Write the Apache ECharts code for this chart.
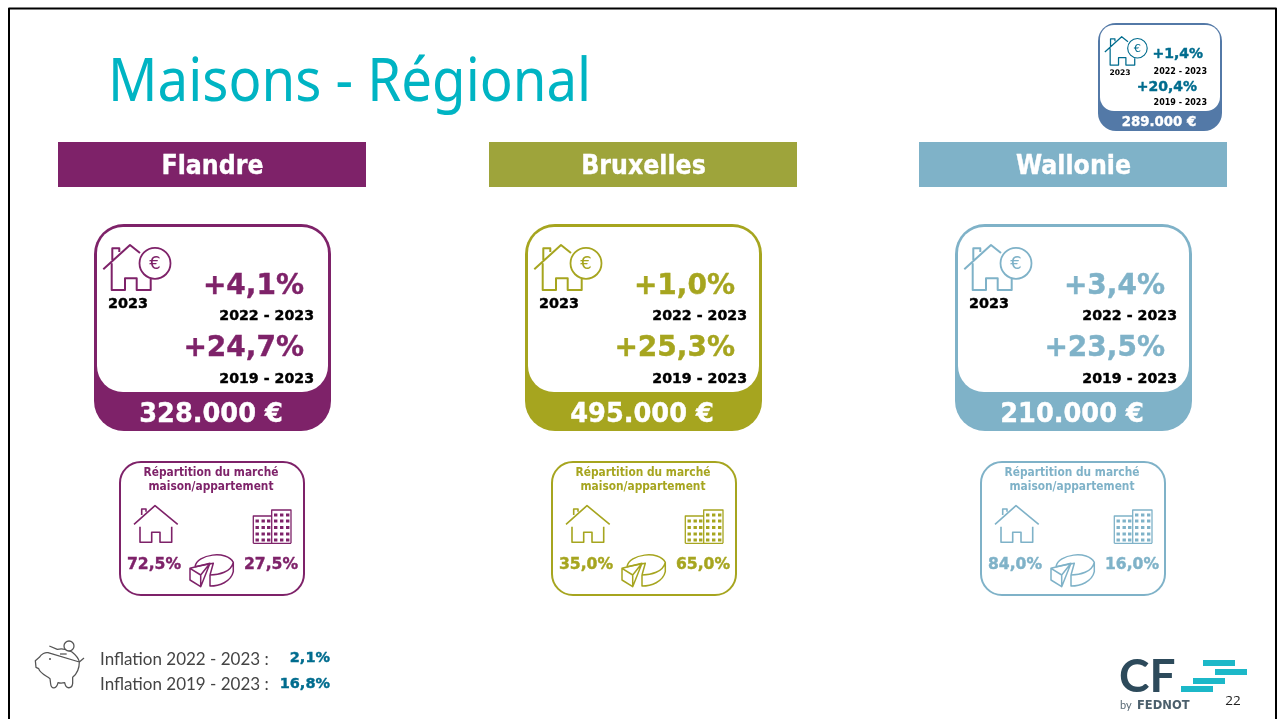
<!DOCTYPE html>
<html>
<head>
<meta charset="utf-8">
<title>Maisons - Régional</title>
<style>
html, body { margin: 0; padding: 0; background: #fff; }
#chart-container { width: 1277px; height: 719px; }
</style>
<script src="https://cdn.jsdelivr.net/npm/echarts@6/dist/echarts.min.js"></script>
</head>
<body>
<div id="chart-container"></div>
<script>
// data
const titleText = "Maisons - Régional";
const regions = ["Flandre", "Bruxelles", "Wallonie"];
const prices = [328000, 495000, 210000];
const growthShort = [4.1, 1.0, 3.4];
const growthLong = [24.7, 25.3, 23.5];
const shareHouse = [72.5, 35.0, 84.0];
const shareFlat = [27.5, 65.0, 16.0];
const nationalPrice = 289000;
const nationalShort = 1.4;
const nationalLong = 20.4;
const periodShort = "2022 - 2023";
const periodLong = "2019 - 2023";
const priceYear = "2023";
const inflationLabels = ["Inflation 2022 - 2023 :", "Inflation 2019 - 2023 :"];
const inflationValues = [2.1, 16.8];
const pageNumber = "22";

// layout and colours
const headerColors = ["#7e2269", "#9ea43b", "#7fb2c8"];
const cardColors = ["#7e2269", "#a6a51f", "#7fb2c8"];
const headerLeft = [58, 489, 919];
const cardLeft = [94, 525, 955];
const miniLeft = [119, 551, 980];
const periodRight = [314, 747, 1177];
const boldFont = '"DejaVu Sans"';
const blue = "#006c8e";

let dom = document.getElementById("chart-container");
let myChart = echarts.init(dom, null, { renderer: "canvas", useDirtyRect: false });

function pct(v) {
    return v.toFixed(1).replace(".", ",") + "%";
}
function euro(v) {
    return String(v).replace(/\B(?=(\d{3})+$)/g, ".") + " €";
}
function label(text, x, y, size, fill, align, weight, family) {
    let el = {
        type: "text",
        style: {
            text: text, x: x, y: y + size * 0.07, fill: fill,
            font: (weight || "bold") + " " + size + "px " + (family || boldFont),
            align: align || "center", verticalAlign: "middle",
            textAlign: align || "center", textVerticalAlign: "middle",
        },
    };
    // the slide's bold face is heavier than DejaVu Bold
    if (!weight && size >= 13) {
        el.style.stroke = fill;
        el.style.lineWidth = 0.4;
    }
    return el;
}
// narrow a label around its anchor
function squeeze(el, sx) {
    el.x = el.style.x;
    el.y = el.style.y;
    el.style.x = 0;
    el.style.y = 0;
    el.scaleX = sx;
    return el;
}

// graphic has no plain path type, so each icon outline is registered as a shape
let iconShapes = {};
function line(pathData, color, width) {
    if (!iconShapes[pathData]) {
        iconShapes[pathData] = "icon" + Object.keys(iconShapes).length;
        echarts.graphic.registerShape(iconShapes[pathData], echarts.graphic.extendPath(pathData, {}));
    }
    return {
        type: iconShapes[pathData],
        style: { fill: null, stroke: color, lineWidth: width || 1.5, lineJoin: "round" },
    };
}

// house with euro coin, coordinates relative to the card corner
function houseCoin(color) {
    return [
        line("M9.3 45.3 L36 21 L46 29 M18.3 36 L18.3 24.3 L25.3 24.3 L25.3 28 M17.7 39.3 L17.7 66 L31 66 L31 54.3 L42.7 54.3 L42.7 66 L56.7 66 L56.7 55", color, 2),
        {
            type: "circle",
            shape: { cx: 61, cy: 39.3, r: 15.5 },
            style: { fill: "#fff", stroke: color, lineWidth: 1.8 },
        },
        label("€", 61, 39, 18, color, "center", "normal"),
    ];
}

function priceCard(x, y, w, h, r, band, color, inset, texts) {
    return [
        {
            type: "rect",
            shape: { x: x, y: y, width: w, height: h, r: r },
            style: { fill: color },
        },
        {
            type: "rect",
            shape: { x: x + inset, y: y + inset, width: w - 2 * inset, height: h - band - inset, r: r - 4 },
            style: { fill: "#fff" },
        },
    ].concat(texts);
}

function buildingWindows(color) {
    let out = [];
    let cols = [136.5, 142.5, 148, 155, 161, 167];
    cols.forEach(function (cx, i) {
        let rows = i < 3 ? [57.5, 64, 70.5, 76.5] : [51.5, 57.5, 64, 70.5, 76.5];
        rows.forEach(function (cy) {
            out.push({
                type: "rect",
                shape: { x: cx, y: cy, width: 3.4, height: 3 },
                style: { fill: color },
            });
        });
    });
    return out;
}

let elements = [];

// slide frame
elements.push(line("M9 719 L9 8.5 L1276 8.5 L1276 719", "#000", 2));

elements.push(squeeze(label(titleText, 108, 80, 60, "#00b4c3", "left", "normal", '"Noto Sans"'), 0.91));

regions.forEach(function (name, i) {
    let color = cardColors[i];
    // header
    elements.push({
        type: "rect",
        shape: { x: headerLeft[i], y: 142, width: 308, height: 45 },
        style: { fill: headerColors[i] },
    });
    elements.push(squeeze(label(name, headerLeft[i] + 154.5, 165, 27, "#fff"), 0.88));

    // price card
    let x = cardLeft[i];
    let right = x + 236;
    elements = elements.concat(priceCard(x, 224, 237, 207, 30, 39, color, 3, [
        label(priceYear, x + 34, 303, 14.4, "#000"),
        label("+" + pct(growthShort[i]), right - 26, 285, 28, color, "right"),
        label(periodShort, periodRight[i], 315, 14.2, "#000", "right"),
        label("+" + pct(growthLong[i]), right - 26, 347, 28, color, "right"),
        label(periodLong, periodRight[i], 378, 14.2, "#000", "right"),
        squeeze(label(euro(prices[i]), x + 117, 413, 27, "#fff"), 0.95),
    ]));
    elements.push({ type: "group", x: x, y: 224, children: houseCoin(color) });

    // market split card
    let mx = miniLeft[i];
    elements.push({
        type: "rect",
        shape: { x: mx + 1, y: 462, width: 184, height: 133, r: 21 },
        style: { fill: "#fff", stroke: color, lineWidth: 2 },
    });
    elements.push({
        type: "group",
        x: mx,
        y: 462,
        children: [
            squeeze(label("Répartition du marché", 92, 10, 11.5, color), 0.924),
            squeeze(label("maison/appartement", 92, 24.5, 11.5, color), 0.924),
            line("M15 62.3 L36 43.7 L58.7 62.3 M22.7 53 L22.7 47 L27 47 L27 49.7 M21 64.7 L21 80.3 L32.7 80.3 L32.7 70.3 L41 70.3 L41 80.3 L52.7 80.3 L52.7 64.7", color, 1.6),
            line("M134.3 81.3 L134.3 54 L152.7 54 M152.7 81.3 L152.7 48 L172 48 L172 81.3 M134.3 81.3 L172 81.3", color, 1.3),
            line("M76 104.7 C78 92 108 88 114.3 100.3 L114.3 109.7 C112 120 100 124 91 124 L91 113 C100 113 112 110 114.3 100.3 M91 113 L94.3 101.3 L76 104.7", color, 1.5),
            line("M71 106.3 L91 101.3 L81.7 124.7 L71 118 Z M71 106.3 L81.7 113 L91 101.3 M81.7 113 L81.7 124.7", color, 1.5),
            label(pct(shareHouse[i]), 35, 102, 15.6, color),
            label(pct(shareFlat[i]), 152, 102, 15.6, color),
        ].concat(buildingWindows(color)),
    });
});

// national card, top right
const navy = "#5379a7";
elements = elements.concat(priceCard(1098, 23, 124, 108, 18, 20, navy, 2, [
    label(priceYear, 1120, 72, 7.6, "#000"),
    label("+" + pct(nationalShort), 1203, 53, 14, blue, "right"),
    label(periodShort, 1207, 71, 8, "#000", "right"),
    label("+" + pct(nationalLong), 1197, 86, 14, blue, "right"),
    label(periodLong, 1207, 102, 8, "#000", "right"),
    squeeze(label(euro(nationalPrice), 1159, 121, 14, "#fff"), 0.95),
]));
elements.push({ type: "group", x: 1099, y: 23.5, scaleX: 0.63, scaleY: 0.63, children: houseCoin(blue) });

// inflation lines with piggy bank
elements.push({
    type: "group",
    x: 20,
    y: 630,
    scaleX: 1 / 3,
    scaleY: 1 / 3,
    children: [
        line("M88 48 L112 58 C128 54 142 58 156 66 C166 74 176 84 178 96 L192 84 M178 96 C178 114 170 132 158 142 L158 160 C156 176 138 180 134 158 C126 160 120 160 114 158 C110 178 94 178 92 162 L90 146 C76 136 60 130 56 116 L48 112 L46 92 L58 82 C64 72 76 66 84 68 Z", "#555", 3.8),
        line("M120 72 L140 72", "#555", 3.8),
        { type: "circle", shape: { cx: 147, cy: 48, r: 15 }, style: { fill: "#fff", stroke: "#555", lineWidth: 3.8 } },
        { type: "circle", shape: { cx: 90, cy: 87, r: 3 }, style: { fill: "#555" } },
    ],
});
inflationLabels.forEach(function (txt, i) {
    let y = 658 + i * 25;
    elements.push(label(txt, 100, y, 17, "#444", "left", "normal", "Lato"));
    elements.push(label(pct(inflationValues[i]), 330, y - 1 + i, 14.5, blue, "right"));
});

// logo and page number
elements.push(label("CF", 1119, 674, 46, "#2d4a5b", "left", "bold", "Lato"));
elements.push(label("by", 1120, 705, 11, "#5a6b76", "left", "normal", "Lato"));
elements.push(label("FEDNOT", 1137, 705, 11.5, "#4b5f6c", "left", "bold", boldFont));
[[1203, 660], [1215, 669], [1193, 678], [1181, 686]].forEach(function (p) {
    elements.push({
        type: "rect",
        shape: { x: p[0], y: p[1], width: 32, height: 6 },
        style: { fill: "#1cb8c8" },
    });
});
elements.push(label(pageNumber, 1233, 700, 13.5, "#222", "center", "normal", '"Open Sans"'));

let option = {
    backgroundColor: "#fff",
    animation: false,
    graphic: { elements: elements },
};

if (option && typeof option === "object") {
    myChart.setOption(option);
}

window.addEventListener("resize", myChart.resize);
</script>
</body>
</html>
